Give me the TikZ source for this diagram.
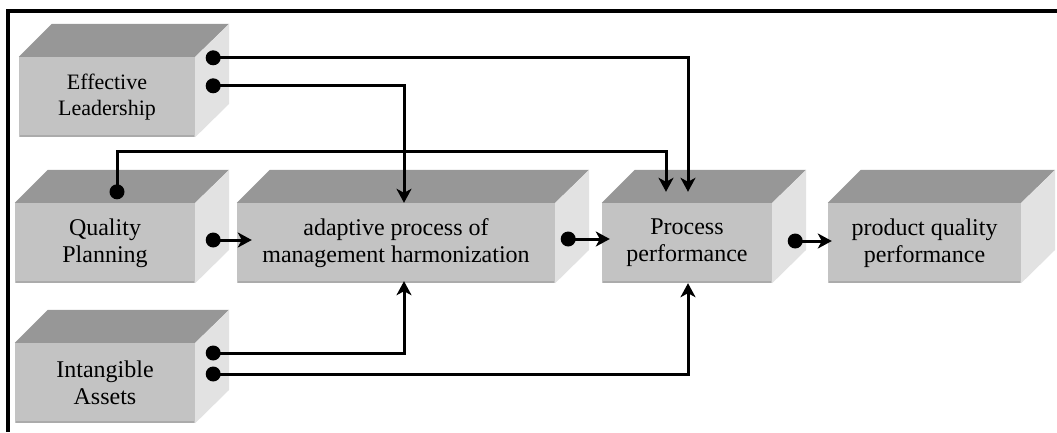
\documentclass[tikz,border=0pt]{standalone}
\usepackage{fontspec}
\setmainfont{Liberation Serif}
\usetikzlibrary{arrows.meta,calc}

\definecolor{facefront}{HTML}{C3C3C3}
\definecolor{facetop}{HTML}{979797}
\definecolor{faceside}{HTML}{E2E2E2}
\definecolor{faceedge}{HTML}{ABABAB}

\tikzset{
  block/.style={fill=facefront, inner sep=0pt, align=center,
    minimum height=80pt, font=\fontsize{24}{27}\selectfont},
  link/.style={line width=3pt, -{Stealth[length=14pt,width=15pt,inset=4pt]}},
  frame/.style={line width=4pt},
}

% top and right faces of a block, seen from above right
\newcommand\blocksides[1]{%
  \fill[facetop] (#1.north west) -- ++(33,-33) -- ($(#1.north east)+(34,-33)$)
    -- (#1.north east) -- cycle;
  \fill[faceside] (#1.north east) -- ++(34,-33) -- ++(0,80)
    -- (#1.south east) -- cycle;
  \draw[faceedge, line width=2pt] ([shift={(1pt,1pt)}]#1.south west)
    -- ([shift={(-1pt,1pt)}]#1.south east);
}

\begin{document}
\begin{tikzpicture}[x=1pt, y=-1pt]
  \useasboundingbox (0,0) rectangle (1057,432);

  % outer frame (top and left)
  \draw[frame] (1057,11) -- (8,11) -- (8,432);

  % blocks
  \node[block, minimum width=176pt, font=\fontsize{22}{26}\selectfont]
    (el) at (107,97) {Effective\\Leadership};
  \node[block, minimum width=180pt] (qp) at (105,243) {Quality\\Planning};
  \node[block, minimum width=180pt] (ia) at (105,383) {Intangible\\Assets};
  \node[block, minimum width=318pt] (ad) at (396,243)
    {adaptive process of\\management harmonization};
  \node[block, minimum width=170pt] (pp) at (687,243) {Process\\performance};
  \node[block, minimum width=193pt] (pq) at (924.5,243)
    {product quality\\performance};

  \blocksides{el}
  \blocksides{qp}
  \blocksides{ia}
  \blocksides{ad}
  \blocksides{pp}
  \blocksides{pq}

  % connector ends
  \coordinate (el-a) at ($(el.north east)+(18,1)$);
  \coordinate (el-b) at ($(el.north east)+(18,29)$);
  \coordinate (qp-t) at ($(qp.north)+(12,-11)$);
  \coordinate (qp-bend) at ($(qp-t)+(0,-40)$);
  \coordinate (qp-r) at ($(qp.east)+(18,-3)$);
  \coordinate (ia-a) at ($(ia.east)+(18,-30)$);
  \coordinate (ia-b) at ($(ia.east)+(18,-9)$);
  \coordinate (ad-l) at ($(ad.west)+(15,-3)$);
  \coordinate (ad-t) at ($(ad.north)+(8,0)$);
  \coordinate (ad-b) at ($(ad.south)+(8,-2)$);
  \coordinate (ad-r) at ($(ad.east)+(13,-4)$);
  \coordinate (pp-l) at ($(pp.west)+(8,-4)$);
  \coordinate (pp-t1) at ($(pp.north)+(-21,-11)$);
  \coordinate (pp-t2) at ($(pp.north)+(1,-11)$);
  \coordinate (pp-b) at ($(pp.south)+(1,0)$);
  \coordinate (pp-r) at ($(pp.east)+(23,-2)$);
  \coordinate (pq-l) at ($(pq.west)+(4,-2)$);

  % connectors
  \draw[link] (el-a) -| (pp-t2);
  \draw[link] (el-b) -| (ad-t);
  \draw[link] (qp-t) -- (qp-bend) -| (pp-t1);
  \draw[link] (qp-r) -- (ad-l);
  \draw[link] (ad-r) -- (pp-l);
  \draw[link] (pp-r) -- (pq-l);
  \draw[link] (ia-a) -| (ad-b);
  \draw[link] (ia-b) -| (pp-b);

  % start dots
  \foreach \p in {el-a, el-b, qp-t, qp-r, ia-a, ia-b, ad-r, pp-r}
    \fill (\p) circle (7.5);
\end{tikzpicture}
\end{document}
